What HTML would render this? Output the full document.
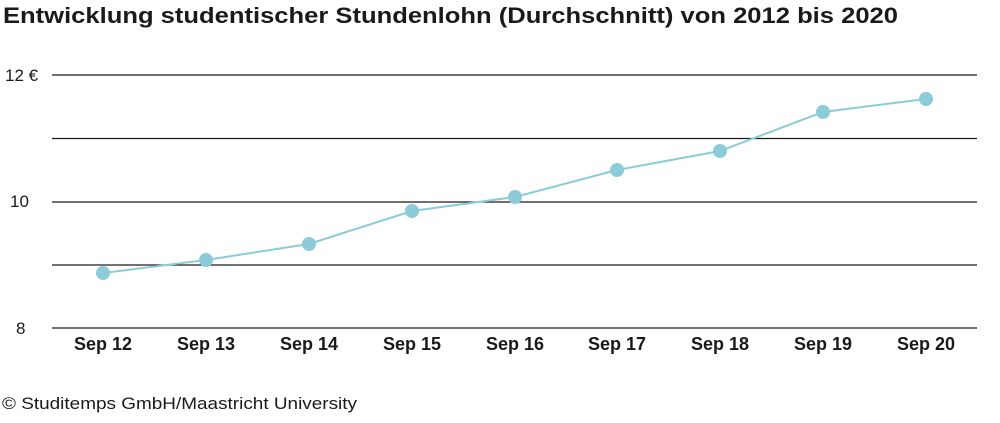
<!DOCTYPE html>
<html><head><meta charset="utf-8"><style>
body{margin:0;background:#fff;width:1000px;height:418px;overflow:hidden;font-family:"Liberation Sans","DejaVu Sans",sans-serif;}
</style></head><body>
<svg width="1000" height="418" viewBox="0 0 1000 418" xmlns="http://www.w3.org/2000/svg" font-family="Liberation Sans, DejaVu Sans, sans-serif">
<text x="3" y="23" font-size="22" font-weight="bold" fill="#1a1a1a" textLength="895" lengthAdjust="spacingAndGlyphs">Entwicklung studentischer Stundenlohn (Durchschnitt) von 2012 bis 2020</text>
<g stroke="#1a1a1a" stroke-width="1.3">
<line x1="52" y1="75" x2="977" y2="75"/>
<line x1="52" y1="138.5" x2="977" y2="138.5"/>
<line x1="52" y1="202" x2="977" y2="202"/>
<line x1="52" y1="265" x2="977" y2="265"/>
<line x1="52" y1="328" x2="977" y2="328"/>
</g>
<g font-size="17" fill="#1a1a1a">
<text x="5" y="81">12 €</text>
<text x="10" y="207">10</text>
<text x="16" y="334">8</text>
</g>
<g font-size="18" font-weight="bold" fill="#1a1a1a" text-anchor="middle">
<text x="103" y="350">Sep 12</text><text x="206" y="350">Sep 13</text><text x="309" y="350">Sep 14</text>
<text x="412" y="350">Sep 15</text><text x="515" y="350">Sep 16</text><text x="617" y="350">Sep 17</text>
<text x="720" y="350">Sep 18</text><text x="823" y="350">Sep 19</text><text x="926" y="350">Sep 20</text>
</g>
<polyline fill="none" stroke="#8ccbd8" stroke-width="2" points="103,273 206,260 309,244 412,211 515,197 617,170 720,151 823,112 926,99"/>
<g fill="#8ccbd8">
<circle cx="103" cy="273" r="7"/><circle cx="206" cy="260" r="7"/><circle cx="309" cy="244" r="7"/>
<circle cx="412" cy="211" r="7"/><circle cx="515" cy="197" r="7"/><circle cx="617" cy="170" r="7"/>
<circle cx="720" cy="151" r="7"/><circle cx="823" cy="112" r="7"/><circle cx="926" cy="99" r="7"/>
</g>
<text x="2" y="409" font-size="17" fill="#1a1a1a" textLength="355" lengthAdjust="spacingAndGlyphs">© Studitemps GmbH/Maastricht University</text>
</svg>
</body></html>
